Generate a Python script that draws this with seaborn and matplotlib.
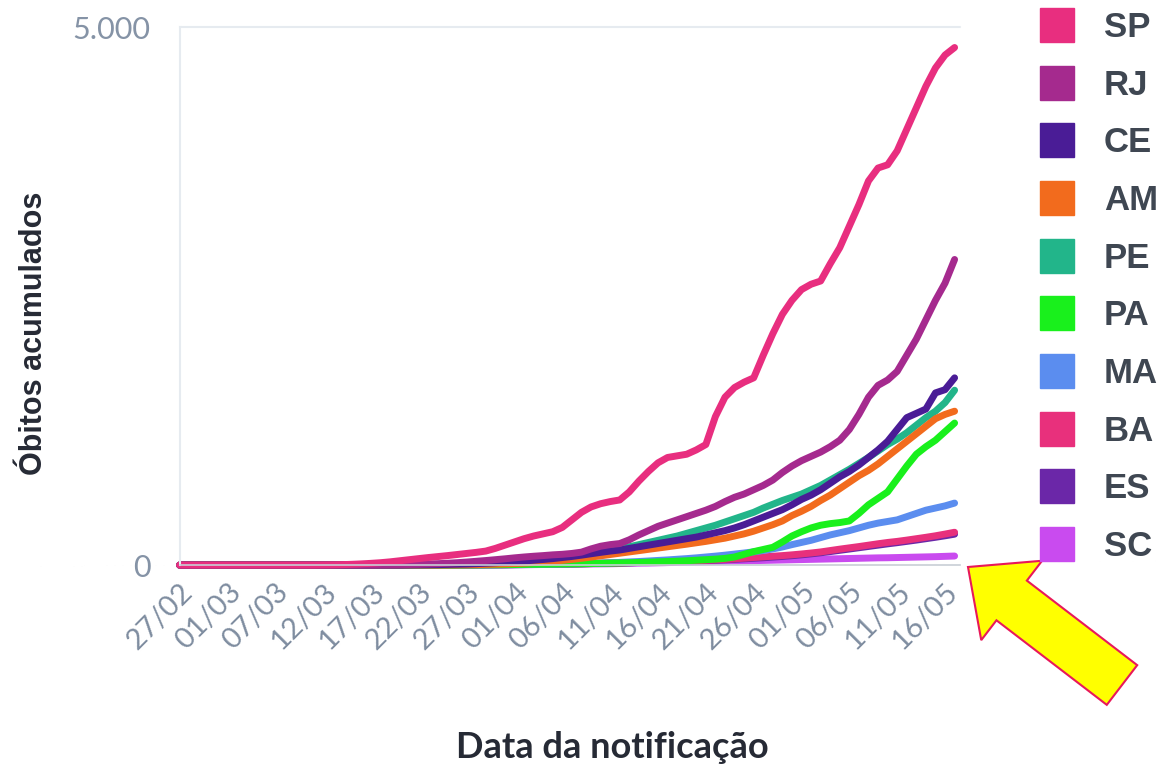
import numpy as np
import pandas as pd
import matplotlib
matplotlib.use("Agg")
import matplotlib.pyplot as plt
from matplotlib.lines import Line2D
from matplotlib.patches import FancyArrow
from matplotlib.transforms import IdentityTransform
import seaborn as sns

# Categorias e rótulos
estados = ["SP", "RJ", "CE", "AM", "PE", "PA", "MA", "BA", "ES", "SC"]
cores = ["#E82E7F", "#A52A8E", "#4A1C96", "#F26B1D", "#22B58A",
         "#19F01C", "#5B8DEF", "#E8307C", "#6B27A8", "#C94BEF"]
rotulos_x = ["27/02", "01/03", "07/03", "12/03", "17/03", "22/03", "27/03",
             "01/04", "06/04", "11/04", "16/04", "21/04", "26/04", "01/05",
             "06/05", "11/05", "16/05"]

# Óbitos acumulados por dia
sp = [0] * 15 + [1, 2, 4, 7, 11, 16, 22, 30, 40, 50, 60, 70, 79, 88, 98, 108, 118, 130,
                 155, 185, 215, 245, 270, 290, 310, 350, 420, 490, 540, 570, 590, 605,
                 680, 780, 870, 950, 1000, 1015, 1030, 1070, 1120, 1380, 1560, 1650,
                 1700, 1740, 1950, 2150, 2330, 2460, 2560, 2610, 2640, 2800, 2950, 3150,
                 3350, 3570, 3690, 3720, 3850, 4050, 4250, 4450, 4620, 4740, 4810]
rj = [0] * 21 + [1, 2, 3, 5, 7, 10, 13, 17, 22, 28, 35, 42, 50, 58, 67, 75, 82, 88, 95,
                 100, 108, 120, 150, 175, 190, 200, 235, 280, 320, 360, 390, 420, 450,
                 480, 510, 545, 590, 630, 660, 700, 740, 790, 860, 920, 970, 1010, 1050,
                 1100, 1160, 1260, 1400, 1560, 1670, 1720, 1800, 1950, 2100, 2280, 2460,
                 2620, 2840]
ce = [0] * 24 + [1, 2, 3, 4, 6, 8, 10, 13, 17, 21, 26, 32, 38, 45, 52, 60, 70, 80, 92,
                 105, 118, 130, 140, 155, 170, 185, 200, 215, 230, 245, 260, 280, 300,
                 320, 345, 375, 410, 445, 480, 515, 560, 610, 650, 700, 760, 820, 870,
                 930, 1000, 1070, 1150, 1260, 1370, 1410, 1450, 1600, 1630, 1740]
am = [0] * 28 + [1, 2, 3, 4, 6, 8, 11, 14, 18, 23, 29, 36, 44, 53, 63, 74, 86, 98, 110,
                 122, 134, 146, 158, 170, 182, 194, 207, 220, 235, 250, 270, 290, 315,
                 345, 375, 410, 460, 500, 545, 600, 650, 710, 770, 830, 880, 940, 1010,
                 1080, 1150, 1220, 1290, 1360, 1400, 1430]
pe = [0] * 26 + [1, 2, 3, 5, 7, 9, 12, 15, 19, 24, 30, 37, 45, 55, 65, 78, 90, 105, 120,
                 135, 150, 170, 190, 210, 230, 250, 270, 295, 320, 345, 370, 400, 430,
                 460, 490, 530, 565, 600, 630, 660, 700, 740, 790, 840, 890, 945, 1000,
                 1060, 1120, 1170, 1230, 1300, 1370, 1430, 1510, 1625]
pa = [0] * 30 + [1, 1, 2, 3, 4, 5, 6, 7, 8, 9, 10, 11, 12, 14, 16, 18, 20, 22, 24, 27,
                 30, 33, 36, 40, 45, 50, 55, 62, 75, 100, 125, 145, 165, 215, 270, 310,
                 345, 370, 385, 395, 410, 480, 560, 620, 680, 800, 920, 1030, 1100, 1160,
                 1240, 1320]
ma = [0] * 32 + [1, 1, 2, 3, 4, 5, 6, 7, 9, 11, 13, 15, 18, 21, 25, 29, 33, 38, 43, 48,
                 54, 60, 67, 75, 83, 92, 102, 112, 123, 135, 150, 168, 190, 210, 230, 255,
                 280, 300, 320, 345, 370, 390, 405, 420, 450, 480, 510, 530, 550, 576]
ba = [0] * 30 + [1, 1, 2, 3, 3, 4, 5, 6, 7, 8, 9, 10, 12, 14, 16, 18, 20, 22, 24, 26,
                 28, 30, 33, 36, 40, 44, 48, 53, 58, 64, 70, 76, 82, 88, 95, 103, 112, 122,
                 135, 148, 160, 172, 185, 198, 210, 220, 232, 245, 258, 272, 288, 305]
es = [0] * 31 + [1, 2, 2, 3, 4, 5, 6, 7, 8, 9, 10, 12, 14, 16, 18, 20, 22, 24, 26, 28,
                 30, 32, 35, 38, 41, 45, 49, 53, 58, 63, 68, 74, 80, 87, 95, 104, 114, 125,
                 137, 149, 161, 173, 185, 197, 208, 220, 232, 245, 258, 272, 287]
sc = [0] * 31 + [1, 1, 2, 2, 3, 3, 4, 5, 6, 7, 8, 9, 10, 11, 12, 14, 16, 18, 19, 21,
                 23, 25, 27, 29, 31, 33, 35, 37, 39, 41, 43, 45, 47, 49, 51, 53, 55, 57,
                 59, 61, 63, 65, 67, 68, 70, 72, 74, 76, 78, 81, 84]

series = [sp, rj, ce, am, pe, pa, ma, ba, es, sc]
frames = []
for uf, vals in zip(estados, series):
    frames.append(pd.DataFrame({"dia": np.arange(len(vals)), "obitos": vals, "estado": uf}))
df = pd.concat(frames, ignore_index=True)
paleta = dict(zip(estados, cores))

sns.set_style("white")
plt.rcParams["font.family"] = ["Lato", "DejaVu Sans"]

fig = plt.figure(figsize=(11.74, 7.73), dpi=100)
ax = fig.add_axes([0.153, 0.269, 0.665, 0.696])

sns.lineplot(data=df, x="dia", y="obitos", hue="estado",
             hue_order=estados[::-1], palette=paleta, linewidth=5,
             legend=False, ax=ax, solid_capstyle="round", solid_joinstyle="round")
for ln in ax.lines:
    ln.set_clip_on(False)

ax.set_xlim(0, 81.6)
ax.set_ylim(0, 5000)
ax.set_yticks([0, 5000])
ax.set_yticklabels(["0", "5.000"])
ax.set_xticks(np.arange(0, 5 * len(rotulos_x), 5))
ax.set_xticklabels(rotulos_x, rotation=45, ha="right", rotation_mode="anchor")
ax.tick_params(axis="y", length=19, color="#D5DCE4", labelsize=22,
               labelcolor="#8593A6", pad=2)
ax.tick_params(axis="x", length=0, labelsize=21, labelcolor="#7F8DA0", pad=10)
ax.axhline(5000, color="#E6EBF0", lw=1.5, clip_on=False, zorder=0)
for s in ["top", "right"]:
    ax.spines[s].set_visible(False)
ax.spines["left"].set_color("#E6EBF0")
ax.spines["left"].set_linewidth(1.5)
ax.spines["bottom"].set_color("#C8CED6")
ax.spines["bottom"].set_linewidth(1.2)

ax.set_xlabel("Data da notificação", fontsize=26, fontweight="bold",
              color="#262A35", va="center")
ax.xaxis.set_label_coords(0.554, -0.34)
ax.set_ylabel("Óbitos acumulados", fontsize=22, fontweight="bold",
              color="#262A35", va="center", family=["Liberation Sans", "DejaVu Sans"])
ax.yaxis.set_label_coords(-0.186, 0.43)

handles = [Line2D([], [], marker="s", linestyle="none", markersize=25,
                  markerfacecolor=c, markeredgecolor=c) for c in cores]
fig.legend(handles, estados, loc="upper left", bbox_to_anchor=(0.859, 1.026),
           frameon=False, labelspacing=0.71, handletextpad=0.85, handlelength=1.0,
           prop={"weight": "bold", "size": 25, "family": ["Liberation Sans", "DejaVu Sans"]},
           labelcolor="#3F4752")

arrow = FancyArrow(1122, 88, 968 - 1122, 206 - 88, width=50, head_width=100,
                   head_length=55, length_includes_head=True, facecolor="#FFFF00",
                   edgecolor="#E8185A", linewidth=1.5, transform=IdentityTransform())
fig.add_artist(arrow)

fig.savefig("out.png", dpi=100)
